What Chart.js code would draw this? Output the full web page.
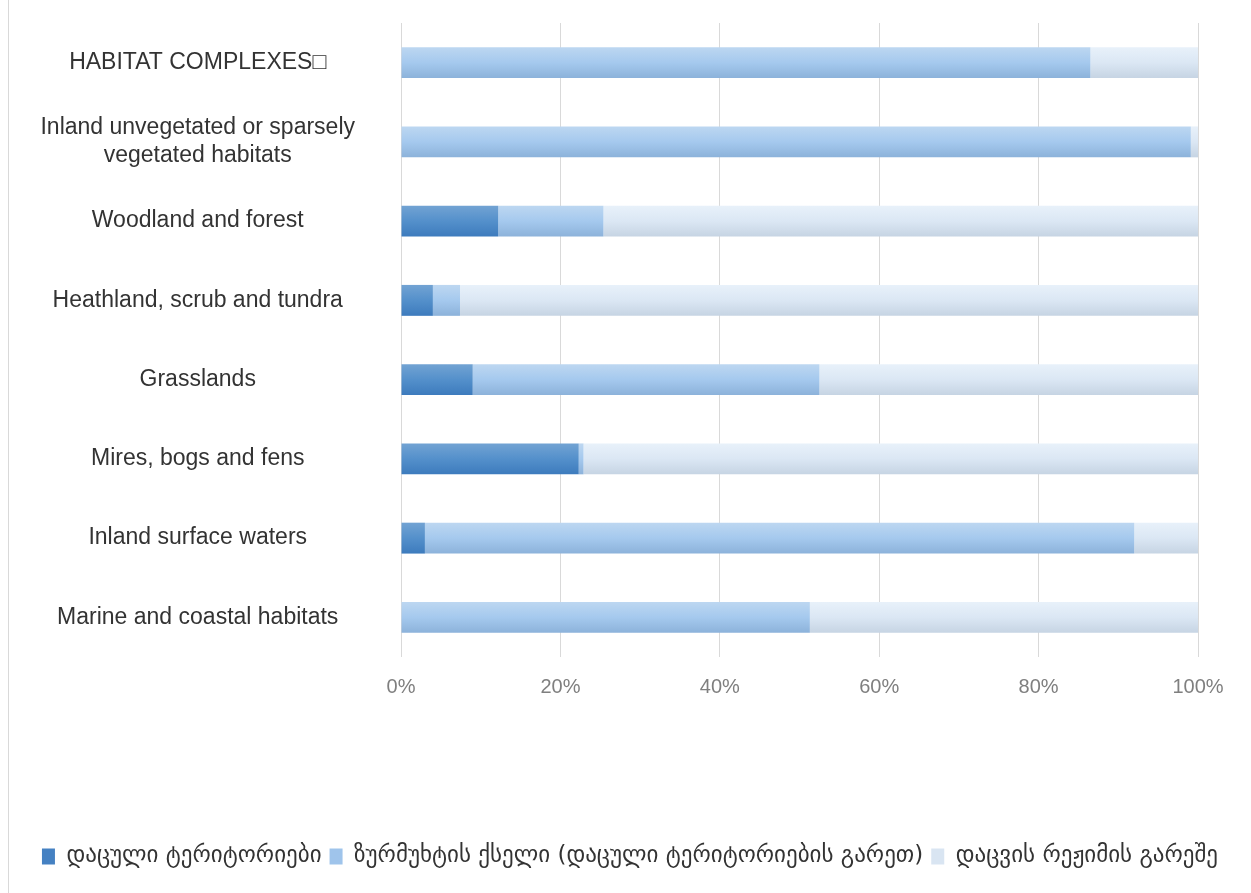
<!DOCTYPE html>
<html>
<head>
<meta charset="utf-8">
<script src="https://cdn.jsdelivr.net/npm/chart.js@4"></script>
<style>
  html, body { margin: 0; padding: 0; background: #fff; }
  #wrap { position: absolute; left: 8px; top: 0; width: 1243px; height: 893px; border-left: 1px solid #d9d9d9; box-sizing: border-box; }
</style>
</head>
<body>
<div id="wrap"><canvas id="habitatChart"></canvas></div>
<script>
// კატეგორიები და მნიშვნელობები (%)
const categories = [
    'HABITAT COMPLEXES\u25A1',
    ['Inland unvegetated or sparsely', 'vegetated habitats'],
    'Woodland and forest',
    'Heathland, scrub and tundra',
    'Grasslands',
    'Mires, bogs and fens',
    'Inland surface waters',
    'Marine and coastal habitats'
];
const seriesNames = ['დაცული ტერიტორიები', 'ზურმუხტის ქსელი (დაცული ტერიტორიების გარეთ)', 'დაცვის რეჟიმის გარეშე'];
const protectedAreas = [0, 0, 12.2, 4.0, 9.0, 22.3, 3.0, 0];
const emeraldNetwork = [86.5, 99.1, 13.2, 3.4, 43.5, 0.6, 89.0, 51.3];
const noProtection = [13.5, 0.9, 74.6, 92.6, 47.5, 77.1, 8.0, 48.7];
const xTicks = [0, 20, 40, 60, 80, 100];
const legendColors = ['#4581c2', '#9fc4eb', '#d9e5f2'];

const catPct = 0.39;

// ვერტიკალური გრადიენტი ზოლებისთვის
function barGradient(top, mid, bottom, solid) {
    return function (ctx) {
        const chart = ctx.chart;
        const y = chart.scales.y;
        if (ctx.dataIndex === undefined || !y || !chart.chartArea) return solid;
        const c = y.getPixelForValue(ctx.dataIndex);
        const h = (y.height / categories.length) * catPct / 2;
        const g = chart.ctx.createLinearGradient(0, c - h, 0, c + h);
        g.addColorStop(0, top);
        g.addColorStop(0.5, mid);
        g.addColorStop(1, bottom);
        return g;
    };
}

const ctx = document.getElementById('habitatChart').getContext('2d');
const habitatChart = new Chart(ctx, {
    type: 'bar',
    data: {
        labels: categories,
        datasets: [{
            label: seriesNames[0],
            data: protectedAreas,
            backgroundColor: barGradient('#72a3d3', '#5490cb', '#3d7bbd', legendColors[0])
        }, {
            label: seriesNames[1],
            data: emeraldNetwork,
            backgroundColor: barGradient('#bdd7f1', '#a5c9ee', '#8cb2da', legendColors[1])
        }, {
            label: seriesNames[2],
            data: noProtection,
            backgroundColor: barGradient('#e8f1fa', '#dbe7f4', '#c6d4e3', legendColors[2])
        }]
    },
    options: {
        indexAxis: 'y',
        responsive: true,
        maintainAspectRatio: false,
        animation: false,
        datasets: {
            bar: { categoryPercentage: catPct, barPercentage: 1 }
        },
        layout: { padding: { top: 23, right: 0, bottom: 15, left: 0 } },
        scales: {
            x: {
                stacked: true,
                min: 0,
                max: 100,
                afterBuildTicks: (s) => { s.ticks = xTicks.map(v => ({ value: v })); },
                grid: { color: '#d9d9d9', drawTicks: false, lineWidth: 1 },
                border: { display: false },
                ticks: {
                    padding: 18,
                    color: '#7f7f7f',
                    font: { family: 'Liberation Sans', size: 20 },
                    callback: (v) => v + '%'
                },
                afterFit: (s) => { s.height = 180; s.paddingRight = 53; }
            },
            y: {
                stacked: true,
                grid: { display: false, drawTicks: false },
                border: { display: false },
                ticks: {
                    crossAlign: 'center',
                    padding: 46,
                    color: '#333333',
                    font: { family: 'Liberation Sans', size: 23, lineHeight: 1.22 }
                },
                afterFit: (s) => { s.width = 392; s.paddingTop = 0; s.paddingBottom = 0; }
            }
        },
        plugins: {
            legend: {
                position: 'bottom',
                labels: {
                    boxWidth: 13,
                    boxHeight: 16,
                    padding: 8,
                    color: '#333333',
                    font: { family: 'DejaVu Sans', size: 23 },
                    generateLabels: (chart) => {
                        const items = Chart.defaults.plugins.legend.labels.generateLabels(chart);
                        items.forEach((it, i) => { it.fillStyle = legendColors[i]; it.strokeStyle = legendColors[i]; it.lineWidth = 0; });
                        return items;
                    }
                }
            },
            tooltip: { enabled: false }
        }
    }
});
</script>
</body>
</html>
